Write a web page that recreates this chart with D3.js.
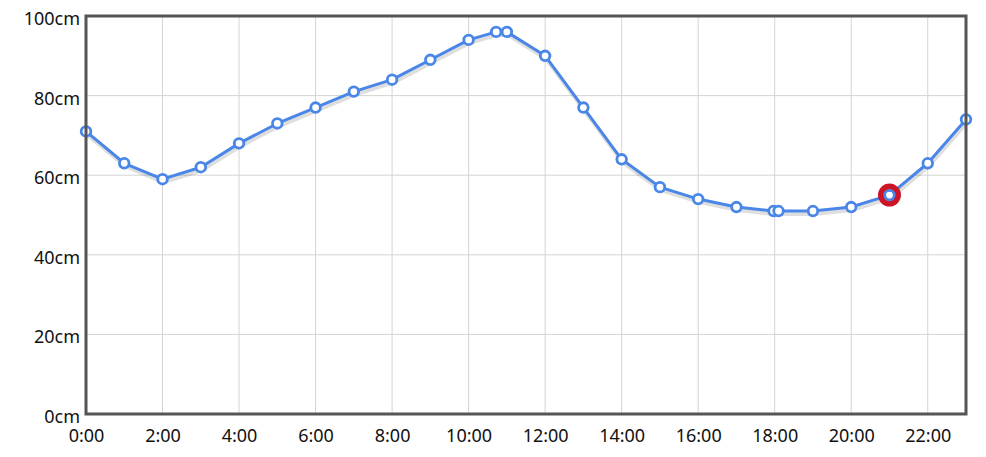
<!DOCTYPE html>
<html><head><meta charset="utf-8">
<script src="https://cdn.jsdelivr.net/npm/d3@7"></script>
<style>body{margin:0;background:#fff;}svg{display:block;}</style>
</head><body>
<svg id="c" width="986" height="457"></svg>
<script>
// hours (decimal) and heights (cm)
const hours = [0,1,2,3,4,5,6,7,8,9,10,10.72,11,12,13,14,15,16,17,17.97,18.1,19,20,21,22,23];
const heights = [71,63,59,62,68,73,77,81,84,89,94,96,96,90,77,64,57,54,52,51,51,51,52,55,63,74];
const highlightHour = 21;
const xTicks = [0,2,4,6,8,10,12,14,16,18,20,22];
const xTickLabels = ["0:00","2:00","4:00","6:00","8:00","10:00","12:00","14:00","16:00","18:00","20:00","22:00"];
const yTicks = [0,20,40,60,80,100];
const yTickLabels = ["0cm","20cm","40cm","60cm","80cm","100cm"];

const FONT = '"Noto Sans","Open Sans",sans-serif';
const data = hours.map((h,i)=>({h, v:heights[i]}));
const L=86,R=966,T=16,B=414;
const svg = d3.select("#c");
const x = d3.scaleLinear().domain([0,23]).range([L,R]);
const y = d3.scaleLinear().domain([0,100]).range([B,T]);

// grid
const g = svg.append("g");
g.selectAll("line.v").data(xTicks.slice(1)).enter().append("line")
 .attr("x1",d=>x(d)).attr("x2",d=>x(d)).attr("y1",T).attr("y2",B)
 .attr("stroke","#d4d4d4").attr("stroke-width",1);
g.selectAll("line.h").data(yTicks.slice(1,-1)).enter().append("line")
 .attr("y1",d=>y(d)).attr("y2",d=>y(d)).attr("x1",L).attr("x2",R)
 .attr("stroke","#d4d4d4").attr("stroke-width",1);

// axis labels via d3 axes
const xAxis = d3.axisBottom(x).tickValues(xTicks).tickFormat((d,i)=>xTickLabels[i]).tickSize(0).tickPadding(15);
const ax = svg.append("g").attr("transform",`translate(0,${B})`).call(xAxis)
 .attr("font-family",FONT).attr("font-size",18);
ax.select(".domain").remove();
ax.selectAll("text").attr("fill","#111");
const yAxis = d3.axisLeft(y).tickValues(yTicks).tickFormat((d,i)=>yTickLabels[i]).tickSize(0).tickPadding(6);
const ay = svg.append("g").attr("transform",`translate(${L},2)`).call(yAxis)
 .attr("font-family",FONT).attr("font-size",18);
ay.select(".domain").remove();
ay.selectAll("text").attr("fill","#111").attr("dy","0.36em");

// line shadow
const line = d3.line().x(d=>x(d.h)).y(d=>y(d.v));
svg.append("path").datum(data).attr("d",line).attr("fill","none")
 .attr("stroke","rgba(0,0,0,0.13)").attr("stroke-width",4).attr("transform","translate(1,3)")
 .attr("stroke-linejoin","round");
svg.append("path").datum(data).attr("d",line).attr("fill","none")
 .attr("stroke","#4a86e8").attr("stroke-width",3).attr("stroke-linejoin","round");

// highlight ring
const hi = data.find(d=>d.h===highlightHour);
svg.append("circle").attr("cx",x(hi.h)).attr("cy",y(hi.v)).attr("r",8.5)
 .attr("fill","none").attr("stroke","#cc1426").attr("stroke-width",6);

// points
svg.selectAll("circle.p").data(data).enter().append("circle").attr("class","p")
 .attr("cx",d=>x(d.h)).attr("cy",d=>y(d.v)).attr("r",4.8)
 .attr("fill","#fff").attr("stroke","#4a86e8").attr("stroke-width",2.8);

// frame
svg.append("rect").attr("x",L).attr("y",T).attr("width",R-L).attr("height",B-T)
 .attr("fill","none").attr("stroke","#555").attr("stroke-width",3);
</script>
</body></html>
